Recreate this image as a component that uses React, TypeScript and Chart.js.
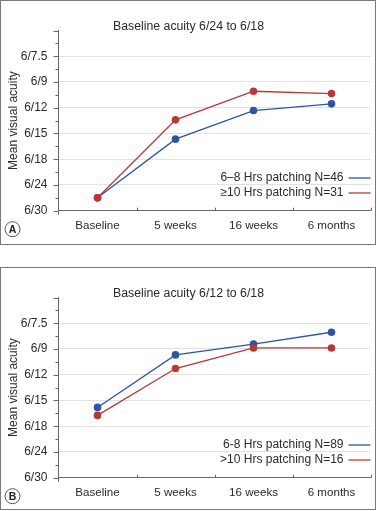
import React, { useEffect, useRef } from 'react';
import { Chart, registerables } from 'chart.js';

Chart.register(...registerables);

// ---- data ----
const categories = ['Baseline', '5 weeks', '16 weeks', '6 months'];
const acuityTicks = ['6/30', '6/24', '6/18', '6/15', '6/12', '6/9', '6/7.5', ''];

const titleA = 'Baseline acuity 6/24 to 6/18';
const labelsA = ['6–8 Hrs patching N=46', '≥10 Hrs patching N=31'];
const blueA = [0.5, 2.78, 3.89, 4.15];
const redA = [0.5, 3.53, 4.64, 4.55];

const titleB = 'Baseline acuity 6/12 to 6/18';
const labelsB = ['6-8 Hrs patching N=89', '>10 Hrs patching N=16'];
const blueB = [2.73, 4.77, 5.19, 5.65];
const redB = [2.42, 4.24, 5.04, 5.04];

const yTitle = 'Mean visual acuity';

// ---- style ----
const BLUE = '#2e55a3';
const RED = '#b83838';
const FONT = "'Liberation Sans', Arial, Helvetica, sans-serif";
const TEXT = '#2a2a2a';
const AXIS = '#666666';
const GRID = '#e2e2e2';

type PanelProps = {
  top: number;
  height: number;
  title: string;
  letter: string;
  labels: string[];
  blue: number[];
  red: number[];
};

function Panel({ top, height, title, letter, labels, blue, red }: PanelProps) {
  const ref = useRef<HTMLCanvasElement | null>(null);

  useEffect(() => {
    if (!ref.current) return;
    const decor = {
      id: 'decor',
      afterDraw(chart: any) {
        const { ctx, chartArea: a, scales } = chart;
        const y = scales.y;
        const x = scales.x;
        ctx.save();
        ctx.strokeStyle = AXIS;
        ctx.lineWidth = 1;
        // y-axis major / minor ticks
        for (let v = y.min; v <= y.max + 1e-9; v += 0.5) {
          const py = Math.round(y.getPixelForValue(v)) + 0.5;
          const len = Math.abs(v - Math.round(v)) < 1e-9 ? 5 : 3;
          ctx.beginPath();
          ctx.moveTo(a.left - len, py);
          ctx.lineTo(a.left, py);
          ctx.stroke();
        }
        // y axis small extension below x axis
        ctx.beginPath();
        ctx.moveTo(a.left, a.bottom);
        ctx.lineTo(a.left, a.bottom + 4);
        ctx.stroke();
        // x-axis category boundary ticks (pointing up)
        for (let i = 1; i <= categories.length; i++) {
          const px = Math.round(x.getPixelForValue(i - 0.5)) + 0.5;
          ctx.beginPath();
          ctx.moveTo(px, a.bottom);
          ctx.lineTo(px, a.bottom - 3);
          ctx.stroke();
        }
        // title
        ctx.fillStyle = TEXT;
        ctx.font = `12.3px ${FONT}`;
        ctx.textAlign = 'center';
        ctx.textBaseline = 'middle';
        ctx.fillText(title, chart.width / 2, a.top - 4);
        // legend (text, then line sample)
        ctx.font = `12px ${FONT}`;
        ctx.textAlign = 'right';
        chart.data.datasets.forEach((ds: any, i: number) => {
          const ly = a.bottom - 32.7 + i * 15;
          ctx.fillStyle = TEXT;
          ctx.fillText(ds.label, a.right - 27, ly);
          ctx.strokeStyle = ds.borderColor;
          ctx.lineWidth = 1.3;
          ctx.beginPath();
          ctx.moveTo(a.right - 22, ly);
          ctx.lineTo(a.right, ly);
          ctx.stroke();
        });
        // panel letter in circle
        const cx = 12.5;
        const cy = a.bottom + 18.5;
        ctx.strokeStyle = '#555';
        ctx.lineWidth = 1;
        ctx.fillStyle = '#fff';
        ctx.beginPath();
        ctx.arc(cx, cy, 7.5, 0, Math.PI * 2);
        ctx.fill();
        ctx.stroke();
        ctx.fillStyle = '#222';
        ctx.font = `bold 10.5px ${FONT}`;
        ctx.textAlign = 'center';
        ctx.textBaseline = 'middle';
        ctx.fillText(letter, cx, cy + 0.5);
        ctx.restore();
      },
    };

    const chart = new Chart(ref.current, {
      type: 'line',
      data: {
        labels: categories,
        datasets: [
          {
            label: labels[0],
            data: blue,
            borderColor: BLUE,
            backgroundColor: BLUE,
            borderWidth: 1.3,
            pointRadius: 3.8,
            pointBorderWidth: 0,
            pointBackgroundColor: BLUE,
            tension: 0,
            order: 1,
          },
          {
            label: labels[1],
            data: red,
            borderColor: RED,
            backgroundColor: RED,
            borderWidth: 1.3,
            pointRadius: 3.8,
            pointBorderWidth: 0,
            pointBackgroundColor: RED,
            tension: 0,
            order: 0,
          },
        ],
      },
      options: {
        responsive: false,
        animation: false,
        events: [],
        layout: { padding: { top: 30.5, right: 6.5, left: 0, bottom: 0 } },
        plugins: {
          legend: { display: false },
          title: { display: false },
          tooltip: { enabled: false },
        },
        scales: {
          x: {
            type: 'category',
            offset: true,
            grid: { display: true, offset: true, drawOnChartArea: false, drawTicks: false, color: 'rgba(0,0,0,0)' },
            border: { display: true, color: AXIS, width: 1 },
            ticks: {
              color: TEXT,
              font: { family: FONT, size: 11.6 },
              padding: 8,
              maxRotation: 0,
              autoSkip: false,
            },
            afterFit: (scale: any) => {
              scale.height = height - 210.7;
            },
          },
          y: {
            type: 'linear',
            min: 0,
            max: 7,
            grid: {
              drawTicks: false,
              color: (c: any) => {
                const v = c.tick ? c.tick.value : 0;
                return v === 0 || v === 7 ? 'rgba(0,0,0,0)' : GRID;
              },
              lineWidth: 1,
            },
            border: { display: true, color: AXIS, width: 1 },
            ticks: {
              stepSize: 1,
              padding: 11,
              color: TEXT,
              font: { family: FONT, size: 12 },
              callback: (v: any) => acuityTicks[Math.round(Number(v))] ?? '',
            },
            title: {
              display: true,
              text: yTitle,
              color: TEXT,
              font: { family: FONT, size: 12 },
              padding: { top: 6, bottom: 0 },
            },
            afterFit: (scale: any) => {
              scale.width = 58.5;
            },
          },
        },
      },
      plugins: [decor],
    } as any);
    return () => chart.destroy();
  }, [top, height, title, letter, labels, blue, red]);

  return (
    <canvas
      ref={ref}
      width={377}
      height={height}
      style={{ position: 'absolute', left: 0, top, width: 377, height, display: 'block' }}
    />
  );
}

export default function App() {
  return (
    <div
      style={{
        position: 'fixed',
        left: 0,
        top: 0,
        width: 377,
        height: 511,
        background: '#fff',
        overflow: 'hidden',
      }}
    >
      <Panel top={0} height={245} title={titleA} letter="A" labels={labelsA} blue={blueA} red={redA} />
      <Panel top={267} height={244} title={titleB} letter="B" labels={labelsB} blue={blueB} red={redB} />
      <div
        style={{
          position: 'absolute',
          left: 0,
          top: 0,
          width: 376,
          height: 245,
          border: '1px solid #7a7a7a',
          boxSizing: 'border-box',
          pointerEvents: 'none',
        }}
      />
      <div
        style={{
          position: 'absolute',
          left: 0,
          top: 267,
          width: 376,
          height: 243,
          border: '1px solid #7a7a7a',
          boxSizing: 'border-box',
          pointerEvents: 'none',
        }}
      />
    </div>
  );
}
